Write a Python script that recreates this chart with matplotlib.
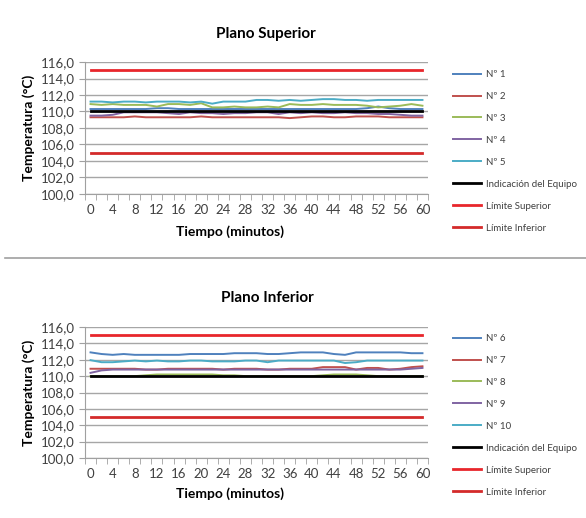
import matplotlib
matplotlib.use("Agg")
import matplotlib.pyplot as plt
from matplotlib.lines import Line2D
from matplotlib.ticker import FuncFormatter, MultipleLocator
import numpy as np

plt.rcParams['font.family'] = ['Lato', 'DejaVu Sans']

# tiempo (minutos), cada 2 min
tiempo = list(range(0, 61, 2))

# Plano Superior
n1 = [110.3, 110.3, 110.3, 110.3, 110.3, 110.3, 110.4, 110.4, 110.3, 110.3, 110.3, 110.3,
      110.3, 110.3, 110.3, 110.3, 110.3, 110.3, 110.3, 110.3, 110.3, 110.3, 110.3, 110.3,
      110.3, 110.4, 110.6, 110.4, 110.3, 110.3, 110.3]
n2 = [109.3, 109.3, 109.3, 109.3, 109.4, 109.3, 109.3, 109.3, 109.3, 109.3, 109.4, 109.3,
      109.3, 109.3, 109.3, 109.3, 109.3, 109.3, 109.2, 109.3, 109.4, 109.4, 109.3, 109.3,
      109.4, 109.4, 109.4, 109.3, 109.3, 109.3, 109.3]
n3 = [110.9, 110.8, 110.9, 110.8, 110.8, 110.8, 110.6, 110.9, 110.9, 110.8, 111.0, 110.5,
      110.5, 110.6, 110.5, 110.5, 110.6, 110.5, 110.9, 110.8, 110.8, 110.9, 110.8, 110.8,
      110.8, 110.7, 110.5, 110.6, 110.7, 110.9, 110.7]
n4 = [109.5, 109.5, 109.6, 109.9, 109.9, 109.9, 109.9, 109.8, 109.7, 109.9, 109.8, 109.8,
      109.7, 109.8, 109.8, 109.9, 109.9, 109.7, 109.9, 109.8, 109.9, 109.8, 109.8, 109.9,
      109.8, 109.8, 109.7, 109.7, 109.6, 109.5, 109.5]
n5 = [111.2, 111.2, 111.1, 111.2, 111.2, 111.1, 111.2, 111.2, 111.2, 111.1, 111.2, 110.95,
      111.2, 111.2, 111.2, 111.4, 111.4, 111.3, 111.4, 111.3, 111.4, 111.5, 111.5, 111.4,
      111.4, 111.3, 111.4, 111.4, 111.4, 111.4, 111.4]

# Plano Inferior
n6 = [112.9, 112.7, 112.6, 112.7, 112.6, 112.6, 112.6, 112.6, 112.6, 112.7, 112.7, 112.7,
      112.7, 112.8, 112.8, 112.8, 112.7, 112.7, 112.8, 112.9, 112.9, 112.9, 112.7, 112.6,
      112.9, 112.9, 112.9, 112.9, 112.9, 112.8, 112.8]
n7 = [110.9, 110.9, 110.9, 110.9, 110.9, 110.8, 110.8, 110.9, 110.9, 110.9, 110.9, 110.9,
      110.8, 110.9, 110.9, 110.9, 110.8, 110.8, 110.9, 110.9, 110.9, 111.1, 111.1, 111.1,
      110.8, 111.0, 111.0, 110.8, 110.9, 111.1, 111.2]
n8 = [110.0, 110.0, 110.0, 110.0, 110.0, 110.1, 110.2, 110.2, 110.2, 110.2, 110.2, 110.2,
      110.1, 110.1, 110.0, 110.0, 110.0, 110.0, 110.0, 110.0, 110.0, 110.1, 110.2, 110.2,
      110.2, 110.1, 110.0, 110.0, 110.0, 110.0, 110.0]
n9 = [110.4, 110.7, 110.8, 110.8, 110.8, 110.8, 110.8, 110.8, 110.8, 110.8, 110.8, 110.8,
      110.8, 110.8, 110.8, 110.8, 110.8, 110.8, 110.8, 110.8, 110.8, 110.8, 110.8, 110.8,
      110.8, 110.8, 110.8, 110.8, 110.8, 110.9, 111.0]
n10 = [111.95, 111.7, 111.7, 111.8, 111.9, 111.8, 111.9, 111.8, 111.8, 111.9, 111.9, 111.8,
       111.8, 111.8, 111.9, 111.9, 111.7, 111.9, 111.9, 111.9, 111.9, 111.9, 111.9, 111.6,
       111.7, 111.9, 111.9, 111.9, 111.9, 111.9, 111.9]

indicacion = [110.0] * len(tiempo)
lim_sup = [115.0] * len(tiempo)
lim_inf = [105.0] * len(tiempo)

colores = ['#4F81BD', '#C0504D', '#9BBB59', '#8064A2', '#4BACC6']
ticks_x = list(range(0, 61, 4))


def fmt(v, pos):
    return ('%.1f' % v).replace('.', ',')


def dibujar(ax, series, nombres, yleg):
    for s, nom, c in zip(series, nombres, colores):
        ax.plot(tiempo, s, color=c, lw=1.4, label=nom)
    ax.plot(tiempo, indicacion, color='black', lw=2.0, label='Indicación del Equipo')
    ax.plot(tiempo, lim_sup, color='#E8262B', lw=2.0, label='Límite Superior')
    ax.plot(tiempo, lim_inf, color='#D42A2A', lw=2.0, label='Límite Inferior')
    ax.set_ylim(100, 116)
    ax.set_xlim(-1, 61)
    ax.yaxis.set_major_locator(MultipleLocator(2))
    ax.yaxis.set_major_formatter(FuncFormatter(fmt))
    ax.set_xticks(ticks_x)
    ax.set_xticks(np.arange(-1, 62, 2), minor=True)
    ax.tick_params(axis='x', which='major', length=0, labelsize=9.5, pad=7, colors='#404040')
    ax.tick_params(axis='x', which='minor', length=4, direction='out', color='#A0A0A0')
    ax.tick_params(axis='y', length=4, direction='out', color='#A0A0A0', labelsize=9.5,
                   labelcolor='#404040')
    ax.grid(axis='y', color='#A6A6A6', lw=1)
    ax.set_axisbelow(True)
    for sp in ['top', 'right']:
        ax.spines[sp].set_visible(False)
    for sp in ['left', 'bottom']:
        ax.spines[sp].set_color('#A0A0A0')
    ax.set_ylabel('Temperatura (°C)', fontsize=10, fontweight='bold', labelpad=4)
    ax.legend(loc='upper left', bbox_to_anchor=(453 / 586, yleg), bbox_transform=fig.transFigure,
              frameon=False, fontsize=7, handlelength=2.9, handletextpad=0.45,
              labelspacing=1.33, borderaxespad=0, borderpad=0, labelcolor='#404040')


fig = plt.figure(figsize=(5.86, 5.18), dpi=100)
ax1 = fig.add_axes([85 / 586, 1 - 194 / 518, 343 / 586, 132 / 518])
ax2 = fig.add_axes([85 / 586, 1 - 458 / 518, 343 / 586, 131 / 518])

dibujar(ax1, [n1, n2, n3, n4, n5], ['Nº 1', 'Nº 2', 'Nº 3', 'Nº 4', 'Nº 5'], 1 - 70 / 518)
dibujar(ax2, [n6, n7, n8, n9, n10], ['Nº 6', 'Nº 7', 'Nº 8', 'Nº 9', 'Nº 10'], 1 - 334 / 518)

fig.text(266 / 586, 1 - 34 / 518, 'Plano Superior', ha='center', va='center',
         fontsize=11, fontweight='bold')
fig.text(267 / 586, 1 - 298 / 518, 'Plano Inferior', ha='center', va='center',
         fontsize=11, fontweight='bold')
fig.text(230 / 586, 1 - 232 / 518, 'Tiempo (minutos)', ha='center', va='center',
         fontsize=10, fontweight='bold')
fig.text(230 / 586, 1 - 494 / 518, 'Tiempo (minutos)', ha='center', va='center',
         fontsize=10, fontweight='bold')

fig.add_artist(Line2D([5 / 586, 1], [1 - 258 / 518, 1 - 258 / 518], transform=fig.transFigure,
                      color='#A0A0A0', lw=1.2))

fig.savefig('out.png', dpi=100)
